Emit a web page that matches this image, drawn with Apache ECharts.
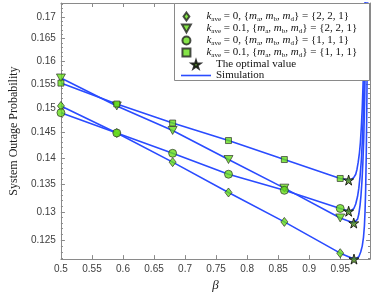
<!DOCTYPE html>
<html>
<head>
<meta charset="utf-8">
<script src="https://cdn.jsdelivr.net/npm/echarts@6/dist/echarts.min.js"></script>
<style>html,body{margin:0;padding:0;background:#fff}#c{width:374px;height:297px}</style>
</head>
<body>
<div id="c"></div>
<script>
// ---- data ----
const beta = [0.5, 0.59, 0.68, 0.77, 0.86, 0.95];
const diamondVals  = [0.1504, 0.1449, 0.1392, 0.1335, 0.1282, 0.1228]; // k=0, {2,2,1}
const triangleVals = [0.1563, 0.1504, 0.1454, 0.1397, 0.1343, 0.1289]; // k=0.1, {2,2,1}
const circleVals   = [0.1490, 0.1449, 0.1409, 0.1369, 0.1339, 0.1306]; // k=0, {1,1,1}
const squareVals   = [0.1552, 0.1508, 0.1469, 0.1434, 0.1397, 0.1361]; // k=0.1, {1,1,1}
const optBeta = [0.9722, 0.9718, 0.9636, 0.9636];
const optVals = [0.1218, 0.1280, 0.1301, 0.1358];
// simulation curves
const simBetaD = [0.5, 0.59, 0.68, 0.77, 0.86, 0.95, 0.9722, 0.976, 0.980, 0.983, 0.9855, 0.9875, 0.989, 0.990, 0.991, 0.992, 0.993, 0.994, 0.9945];
const simValD  = [0.1504, 0.1449, 0.1392, 0.1335, 0.1282, 0.1228, 0.1218, 0.1219, 0.1222, 0.1230, 0.1240, 0.1255, 0.1275, 0.1300, 0.1340, 0.1410, 0.1520, 0.1680, 0.1800];
const simBetaT = [0.5, 0.59, 0.68, 0.77, 0.86, 0.95, 0.9718, 0.975, 0.978, 0.980, 0.982, 0.9835, 0.985, 0.9865, 0.988, 0.9895, 0.991, 0.992];
const simValT  = [0.1563, 0.1504, 0.1454, 0.1397, 0.1343, 0.1289, 0.1280, 0.1281, 0.1287, 0.1296, 0.1312, 0.1330, 0.1355, 0.1390, 0.1440, 0.1520, 0.1650, 0.1800];
const simBetaC = [0.5, 0.59, 0.68, 0.77, 0.86, 0.95, 0.9636, 0.968, 0.972, 0.975, 0.978, 0.980, 0.982, 0.984, 0.9855, 0.987, 0.9885, 0.990, 0.9915];
const simValC  = [0.1490, 0.1449, 0.1409, 0.1369, 0.1339, 0.1306, 0.1301, 0.1302, 0.1306, 0.1314, 0.1328, 0.1343, 0.1365, 0.1395, 0.1430, 0.1480, 0.1550, 0.1640, 0.1800];
const simBetaS = [0.5, 0.59, 0.68, 0.77, 0.86, 0.95, 0.9636, 0.968, 0.972, 0.975, 0.977, 0.979, 0.981, 0.9825, 0.984, 0.9855, 0.987, 0.9885, 0.9905];
const simValS  = [0.1552, 0.1508, 0.1469, 0.1434, 0.1397, 0.1361, 0.1358, 0.1359, 0.1363, 0.1369, 0.1378, 0.1392, 0.1410, 0.1430, 0.1460, 0.1500, 0.1557, 0.1630, 0.1800];
const yMajorTicks = [0.125, 0.13, 0.135, 0.14, 0.145, 0.15, 0.155, 0.16, 0.165, 0.17];
const yMinorTicks = [0.122,0.123,0.124,0.125,0.126,0.127,0.128,0.129,0.13,0.131,0.132,0.133,0.134,0.135,0.136,0.137,0.138,0.139,0.14,0.141,0.142,0.143,0.144,0.145,0.146,0.147,0.148,0.149,0.15,0.151,0.152,0.153,0.154,0.155,0.156,0.157,0.158,0.159,0.16,0.161,0.162,0.163,0.164,0.165,0.166,0.167,0.168,0.169,0.17,0.171,0.172,0.173];
const legendTexts = {
  d: '{i|k}{s|ave} = 0, {{i|m}{s|a}, {i|m}{s|b}, {i|m}{s|d}} = {2, 2, 1}',
  t: '{i|k}{s|ave} = 0.1, {{i|m}{s|a}, {i|m}{s|b}, {i|m}{s|d}} = {2, 2, 1}',
  c: '{i|k}{s|ave} = 0, {{i|m}{s|a}, {i|m}{s|b}, {i|m}{s|d}} = {1, 1, 1}',
  s: '{i|k}{s|ave} = 0.1, {{i|m}{s|a}, {i|m}{s|b}, {i|m}{s|d}} = {1, 1, 1}',
  o: 'The optimal value',
  sim: 'Simulation'
};

// ---- chart ----
const AX = '#8a8a8a';
const LBL = '#404040';
const GREEN = '#66dd1a';
const BLUE = '#2a4bff';
const SERIF = 'Liberation Serif';
const triPath = 'path://M0,0 L10,0 L5,9 Z';
const diaPath = 'path://M4,0 L8,5.5 L4,11 L0,5.5 Z';
const sqPath = 'path://M0,0 L10,0 L10,10 L0,10 Z';
const circPath = 'circle';
const starPath = 'path://M50,0 L61,35 L98,35 L68,57 L79,91 L50,70 L21,91 L32,57 L2,35 L39,35 Z';
const linePath = 'path://M0,0 L30,0 L30,1.6 L0,1.6 Z';
const xmin = 0.5, xmax = 0.998, ymin = 0.1218, ymax = 0.1733;
const pairs = (xs, ys) => xs.map((x, i) => [x, ys[i]]);
const fmtY = v => String(+(+v).toFixed(3));

const rich = {
  i: { fontStyle: 'italic', fontFamily: SERIF, fontSize: 11, color: '#111' },
  s: { fontFamily: SERIF, fontSize: 7, color: '#111', padding: [6, 0, 0, 0] }
};

function yAx(pos, ticks, len, showLine, showLabel) {
  return {
    type: 'log', logBase: 10, min: ymin, max: ymax, position: pos,
    axisLine: { show: showLine, lineStyle: { color: AX, width: 1 } },
    axisTick: { show: true, inside: true, length: len, customValues: ticks, lineStyle: { color: AX, width: 1 } },
    minorTick: { show: false },
    axisLabel: showLabel ? { show: true, customValues: yMajorTicks, formatter: fmtY, color: LBL, fontFamily: 'Liberation Sans', fontSize: 10, margin: 5 } : { show: false },
    splitLine: { show: false }
  };
}

const markerStyle = { color: GREEN, borderColor: '#222', borderWidth: 0.8 };
const legendText = { fontFamily: SERIF, fontSize: 11, color: '#111', lineHeight: 11, rich: rich };

const option = {
  animation: false,
  backgroundColor: '#fff',
  grid: { left: 48, right: 4, top: 3, bottom: 33 },
  xAxis: [
    {
      type: 'value', min: xmin, max: xmax, interval: 0.05, position: 'bottom',
      name: 'β', nameLocation: 'middle', nameGap: 19,
      nameTextStyle: { fontFamily: SERIF, fontStyle: 'italic', fontSize: 13, color: '#222' },
      axisLine: { show: true, lineStyle: { color: AX, width: 1 } },
      axisTick: { show: true, inside: true, length: 4, lineStyle: { color: AX } },
      axisLabel: { showMaxLabel: false, color: LBL, fontFamily: 'Liberation Sans', fontSize: 10, margin: 5 },
      splitLine: { show: false }
    },
    {
      type: 'value', min: xmin, max: xmax, interval: 0.05, position: 'top',
      axisLine: { show: true, lineStyle: { color: AX, width: 1 } },
      axisTick: { show: true, inside: true, length: 4, lineStyle: { color: AX } },
      axisLabel: { show: false },
      splitLine: { show: false }
    }
  ],
  yAxis: [
    Object.assign(yAx('left', yMajorTicks, 4, true, true), {
      name: 'System Outage Probability', nameLocation: 'middle', nameGap: 37,
      nameTextStyle: { fontFamily: SERIF, fontSize: 12, color: '#222' }
    }),
    yAx('left', yMinorTicks, 2, false, false),
    yAx('right', yMajorTicks, 4, true, false),
    yAx('right', yMinorTicks, 2, false, false)
  ],
  graphic: [{
    type: 'rect', z: 50, shape: { x: 174.5, y: 3.5, width: 195, height: 77 },
    style: { fill: '#fff', stroke: AX, lineWidth: 1 }
  }],
  legend: [
    {
      z: 60, orient: 'vertical', left: 176, top: 6, itemWidth: 30, itemHeight: 8, itemGap: 0,
      symbolKeepAspect: true,
      data: [
        { name: 'd', icon: diaPath },
        { name: 't', icon: triPath },
        { name: 'c', icon: circPath },
        { name: 's', icon: sqPath }
      ],
      formatter: n => legendTexts[n],
      textStyle: legendText
    },
    {
      z: 60, orient: 'vertical', left: 176, top: 54, itemWidth: 30, itemHeight: 8, itemGap: 0,
      symbolKeepAspect: true,
      data: [{ name: 'o', icon: starPath }, { name: 'sim', icon: linePath }],
      formatter: n => legendTexts[n],
      textStyle: legendText
    }
  ],
  series: [
    { name: 'sim', type: 'line', data: pairs(simBetaD, simValD), showSymbol: false, symbol: 'none', lineStyle: { color: BLUE, width: 1.6 }, itemStyle: { color: BLUE }, z: 2 },
    { name: 'sim', type: 'line', data: pairs(simBetaT, simValT), showSymbol: false, symbol: 'none', lineStyle: { color: BLUE, width: 1.6 }, itemStyle: { color: BLUE }, z: 2 },
    { name: 'sim', type: 'line', data: pairs(simBetaC, simValC), showSymbol: false, symbol: 'none', lineStyle: { color: BLUE, width: 1.6 }, itemStyle: { color: BLUE }, z: 2 },
    { name: 'sim', type: 'line', data: pairs(simBetaS, simValS), showSymbol: false, symbol: 'none', lineStyle: { color: BLUE, width: 1.6 }, itemStyle: { color: BLUE }, z: 2 },
    { name: 'd', type: 'scatter', data: pairs(beta, diamondVals), symbol: diaPath, symbolSize: [7, 9], itemStyle: markerStyle, z: 5 },
    { name: 't', type: 'scatter', data: pairs(beta, triangleVals), symbol: triPath, symbolSize: [9, 8], itemStyle: markerStyle, z: 5 },
    { name: 'c', type: 'scatter', data: pairs(beta, circleVals), symbol: 'circle', symbolSize: 8, itemStyle: markerStyle, z: 5 },
    { name: 's', type: 'scatter', data: pairs(beta, squareVals), symbol: sqPath, symbolSize: 6, itemStyle: markerStyle, z: 5 },
    { name: 'o', type: 'scatter', data: pairs(optBeta, optVals), symbol: starPath, symbolSize: 10, itemStyle: { color: '#4f8f1a', borderColor: '#000', borderWidth: 1 }, z: 6 }
  ]
};
const chart = echarts.init(document.getElementById('c'), null, { renderer: 'canvas' });
chart.setOption(option);
</script>
</body>
</html>
